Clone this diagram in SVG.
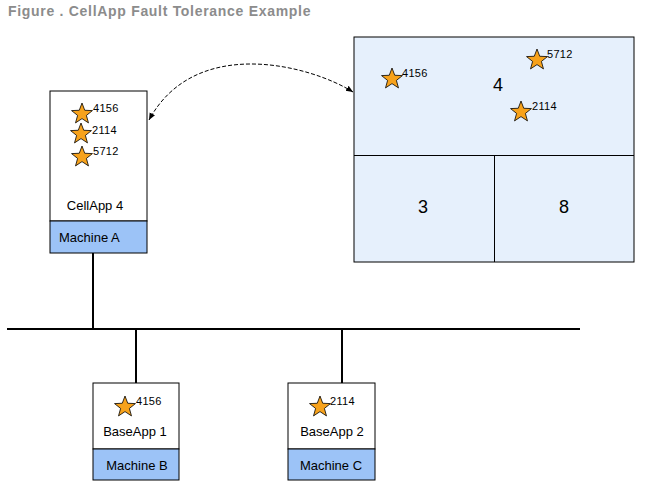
<svg xmlns="http://www.w3.org/2000/svg" xmlns:xlink="http://www.w3.org/1999/xlink" width="645" height="490" viewBox="0 0 645 490">
<style>
text{font-family:"Liberation Sans",Arial,sans-serif;fill:#000}
.title{font-size:14px;font-weight:bold;fill:#8c8c8c;letter-spacing:0.7px}
.lbl{font-size:13px}
.num{font-size:11px;letter-spacing:0.3px}
.big{font-size:18px}
.box{fill:#fff;stroke:#000;stroke-width:1}
.band{fill:#9cc3f7;stroke:#000;stroke-width:1}
.space{fill:#e6f0fc;stroke:#000;stroke-width:1}
.wire{stroke:#000;stroke-width:2;fill:none}
.arc{stroke:#000;stroke-width:1;fill:none;stroke-dasharray:4 2}
</style>
<defs>
<polygon id="star" points="0,-11 2.72,-3.74 10.46,-3.4 4.4,1.43 6.47,8.9 0,4.62 -6.47,8.9 -4.4,1.43 -10.46,-3.4 -2.72,-3.74" fill="#f7a21b" stroke="#000" stroke-width="0.8"/>
<marker id="ah" markerWidth="8" markerHeight="8" refX="7" refY="4" orient="auto-start-reverse" markerUnits="userSpaceOnUse">
<path d="M0,1 L7,4 L0,7 Z" fill="#000"/>
</marker>
</defs>
<text class="title" x="8" y="16">Figure . CellApp Fault Tolerance Example</text>

<g id="connectors">
<line class="wire" x1="7" y1="329" x2="580" y2="329"/>
<line class="wire" x1="93" y1="253" x2="93" y2="329"/>
<line class="wire" x1="136" y1="329" x2="136" y2="383"/>
<line class="wire" x1="342" y1="329" x2="342" y2="383"/>
<path class="arc" d="M353,92 C310,65 195,35 149,120" marker-start="url(#ah)" marker-end="url(#ah)"/>
</g>

<g id="cellapp4">
<rect class="box" x="50" y="91" width="97" height="130"/>
<rect class="band" x="50" y="221" width="97" height="32"/>
<use xlink:href="#star" x="82" y="114"/>
<text class="num" x="93" y="112">4156</text>
<use xlink:href="#star" x="81" y="134"/>
<text class="num" x="92" y="134">2114</text>
<use xlink:href="#star" x="82" y="157"/>
<text class="num" x="93" y="155">5712</text>
<text class="lbl" x="95" y="210" text-anchor="middle">CellApp 4</text>
<text class="lbl" x="59" y="242">Machine A</text>
</g>

<g id="space">
<rect class="space" x="354" y="37" width="280" height="225"/>
<line x1="354" y1="155.5" x2="634" y2="155.5" stroke="#000" stroke-width="1"/>
<line x1="494.5" y1="155.5" x2="494.5" y2="262" stroke="#000" stroke-width="1"/>
<use xlink:href="#star" x="392" y="79"/>
<text class="num" x="402" y="77">4156</text>
<use xlink:href="#star" x="537" y="60"/>
<text class="num" x="547" y="58">5712</text>
<use xlink:href="#star" x="521" y="112"/>
<text class="num" x="532" y="110">2114</text>
<text class="big" x="498" y="91" text-anchor="middle">4</text>
<text class="big" x="423" y="213" text-anchor="middle">3</text>
<text class="big" x="564" y="213" text-anchor="middle">8</text>
</g>

<g id="baseapp1">
<rect class="box" x="93" y="383" width="86" height="66"/>
<rect class="band" x="93" y="449" width="86" height="31"/>
<use xlink:href="#star" x="125" y="407"/>
<text class="num" x="136" y="405">4156</text>
<text class="lbl" x="135" y="436" text-anchor="middle">BaseApp 1</text>
<text class="lbl" x="137" y="470" text-anchor="middle">Machine B</text>
</g>

<g id="baseapp2">
<rect class="box" x="288" y="383" width="87" height="66"/>
<rect class="band" x="288" y="449" width="87" height="31"/>
<use xlink:href="#star" x="320" y="407"/>
<text class="num" x="330" y="405">2114</text>
<text class="lbl" x="332" y="436" text-anchor="middle">BaseApp 2</text>
<text class="lbl" x="331" y="470" text-anchor="middle">Machine C</text>
</g>
</svg>
